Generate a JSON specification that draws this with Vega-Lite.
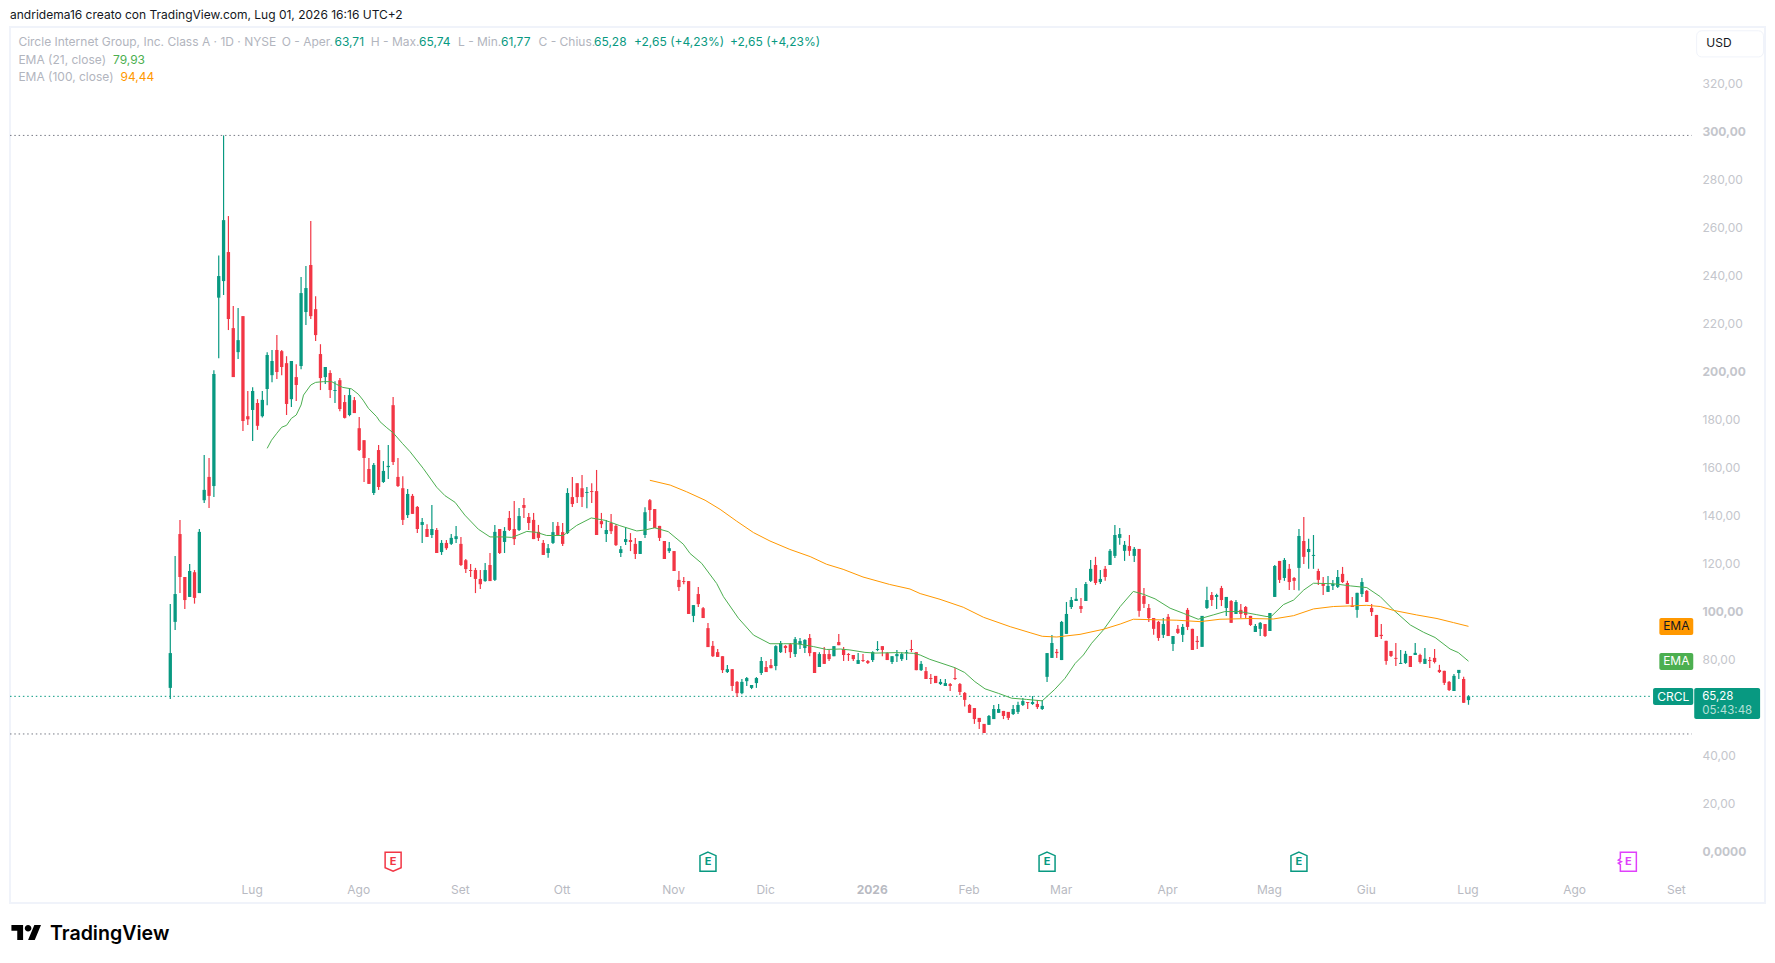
{
  "$schema": "https://vega.github.io/schema/vega-lite/v6.json",
  "autosize": "none",
  "width": 1755,
  "height": 876,
  "padding": {"left": 10, "top": 27, "right": 10, "bottom": 60},
  "background": "#ffffff",
  "title": {"text": "andridema16 creato con TradingView.com, Lug 01, 2026 16:16 UTC+2", "anchor": "start", "frame": "group", "font": "Inter", "fontSize": 12, "fontWeight": "normal", "color": "#131722", "offset": 5},
  "config": {
    "font": "Inter",
    "view": {"stroke": "#f0f3fa", "strokeWidth": 2}
  },
  "datasets": {
    "candles": [
      {"n":0,"o":68.8,"h":103.8,"l":64.2,"c":83.3},{"n":1,"o":96.3,"h":123.8,"l":92.9,"c":107.9},{"n":2,"o":132.9,"h":138.8,"l":108.3,"c":115},{"n":3,"o":115,"h":115,"l":101.7,"c":105.4},{"n":4,"o":106.7,"h":120.4,"l":106.7,"c":117.5},
      {"n":5,"o":117,"h":117.9,"l":103.9,"c":106.3},{"n":6,"o":108.3,"h":135,"l":108.3,"c":133.8},{"n":7,"o":147,"h":165.8,"l":145.8,"c":151.3},{"n":8,"o":156.7,"h":164.6,"l":143.8,"c":148.8},{"n":9,"o":152.9,"h":201.2,"l":148.3,"c":199.6},
      {"n":10,"o":231.4,"h":249,"l":206.2,"c":240.4},{"n":11,"o":238.3,"h":299,"l":232.5,"c":263.7},{"n":12,"o":250.4,"h":265.4,"l":217.9,"c":222.5},{"n":13,"o":218.7,"h":227.9,"l":198.3,"c":198.3},{"n":14,"o":208.7,"h":227.1,"l":205.8,"c":213.7},
      {"n":15,"o":223.7,"h":223.7,"l":175.8,"c":180},{"n":16,"o":182,"h":192.5,"l":178.3,"c":180.7},{"n":17,"o":184.6,"h":194.1,"l":171.7,"c":192.5},{"n":18,"o":187.5,"h":189.1,"l":176.3,"c":178},{"n":19,"o":182,"h":192.5,"l":181.5,"c":188.8},
      {"n":20,"o":193.3,"h":208.7,"l":186.6,"c":207.5},{"n":21,"o":199.1,"h":209.6,"l":196.2,"c":205},{"n":22,"o":209.6,"h":215.8,"l":197.5,"c":200.4},{"n":23,"o":209.1,"h":209.6,"l":199.1,"c":202.5},{"n":24,"o":204.1,"h":207,"l":182.5,"c":187.1},
      {"n":25,"o":189.1,"h":205,"l":185.8,"c":205},{"n":26,"o":198.3,"h":203.7,"l":188.3,"c":195},{"n":27,"o":202.9,"h":240,"l":201.6,"c":233.3},{"n":28,"o":225.4,"h":244.6,"l":220,"c":235.4},{"n":29,"o":245,"h":263.3,"l":222.5,"c":223.7},
      {"n":30,"o":226.6,"h":232,"l":213.3,"c":215.8},{"n":31,"o":207.9,"h":212,"l":192.9,"c":197.9},{"n":32,"o":198.3,"h":202.5,"l":195.4,"c":202.5},{"n":33,"o":200,"h":201.2,"l":189.6,"c":192.9},{"n":34,"o":192.5,"h":196.6,"l":187.5,"c":192.9},
      {"n":35,"o":197,"h":197.9,"l":184.1,"c":185},{"n":36,"o":187.9,"h":190.8,"l":181,"c":181.3},{"n":37,"o":182.5,"h":193.7,"l":182,"c":190.8},{"n":38,"o":188.7,"h":190,"l":183.3,"c":183.3},{"n":39,"o":177,"h":181.7,"l":167.5,"c":167.9},
      {"n":40,"o":172,"h":172,"l":154.6,"c":164.6},{"n":41,"o":160,"h":164.6,"l":153.8,"c":153.8},{"n":42,"o":150,"h":162.5,"l":149.2,"c":161.7},{"n":43,"o":167.9,"h":170,"l":151.3,"c":152.5},{"n":44,"o":154.6,"h":163.3,"l":154.2,"c":159.2},
      {"n":45,"o":160.8,"h":170,"l":155.8,"c":161.3},{"n":46,"o":186.6,"h":190,"l":161.7,"c":162.9},{"n":47,"o":156.7,"h":164.6,"l":152.5,"c":152.9},{"n":48,"o":152,"h":157,"l":136.7,"c":138.8},{"n":49,"o":140.8,"h":151.7,"l":139.6,"c":149.6},
      {"n":50,"o":148.8,"h":149.6,"l":141.3,"c":141.3},{"n":51,"o":144.2,"h":144.6,"l":133.3,"c":135},{"n":52,"o":136.7,"h":139.6,"l":129.2,"c":137.9},{"n":53,"o":135,"h":137,"l":131.7,"c":131.7},{"n":54,"o":132.5,"h":145,"l":131.3,"c":135},
      {"n":55,"o":134.6,"h":135.4,"l":125,"c":125},{"n":56,"o":125.4,"h":130.4,"l":124.2,"c":129.2},{"n":57,"o":129.2,"h":130.4,"l":126.3,"c":127},{"n":58,"o":128.8,"h":132.9,"l":128.3,"c":131.3},{"n":59,"o":130.8,"h":136.3,"l":129.2,"c":132},
      {"n":60,"o":128.8,"h":131.7,"l":119.6,"c":120},{"n":61,"o":122,"h":122.5,"l":116.7,"c":118.3},{"n":62,"o":117.9,"h":120.4,"l":115,"c":117.5},{"n":63,"o":117.9,"h":118.8,"l":108.3,"c":114.2},{"n":64,"o":114.2,"h":117.9,"l":110,"c":112},
      {"n":65,"o":113.3,"h":120.8,"l":113,"c":117.9},{"n":66,"o":120,"h":125,"l":113.3,"c":113.3},{"n":67,"o":113.8,"h":136.7,"l":113.3,"c":133.8},{"n":68,"o":135,"h":135,"l":124.6,"c":125},{"n":69,"o":129.6,"h":135.8,"l":125,"c":134.2},
      {"n":70,"o":139.6,"h":142.5,"l":134.2,"c":134.6},{"n":71,"o":135,"h":146.7,"l":128.3,"c":130.8},{"n":72,"o":134.6,"h":143.8,"l":134.2,"c":140.4},{"n":73,"o":145,"h":147.9,"l":139.6,"c":143.8},{"n":74,"o":140,"h":141.7,"l":134.6,"c":137.5},
      {"n":75,"o":138.8,"h":141.7,"l":130.8,"c":130.8},{"n":76,"o":133.8,"h":136.7,"l":130,"c":131.3},{"n":77,"o":129.2,"h":130.4,"l":124.2,"c":124.2},{"n":78,"o":125,"h":128.8,"l":123,"c":127},{"n":79,"o":129.2,"h":137.9,"l":128.8,"c":133.7},
      {"n":80,"o":136.3,"h":137.9,"l":132.5,"c":132.5},{"n":81,"o":133.7,"h":137.5,"l":127.9,"c":128.8},{"n":82,"o":133.3,"h":152,"l":132.9,"c":150},{"n":83,"o":148.3,"h":156.7,"l":144.2,"c":145.4},{"n":84,"o":154.1,"h":154.1,"l":145.8,"c":148.3},
      {"n":85,"o":152,"h":157.5,"l":144.2,"c":148.3},{"n":86,"o":150,"h":152.5,"l":143.7,"c":150.4},{"n":87,"o":150.8,"h":154.1,"l":145.8,"c":150.4},{"n":88,"o":150.8,"h":159.6,"l":132.5,"c":132.5},{"n":89,"o":138.3,"h":141.7,"l":135.4,"c":137},
      {"n":90,"o":132.9,"h":138.8,"l":129.6,"c":134.6},{"n":91,"o":137.5,"h":141.3,"l":132.9,"c":134.1},{"n":92,"o":136.3,"h":137,"l":127.9,"c":128.3},{"n":93,"o":125,"h":127.9,"l":123.3,"c":126.6},{"n":94,"o":129.6,"h":135.8,"l":128.3,"c":130.8},
      {"n":95,"o":130.4,"h":133.3,"l":125.8,"c":129.6},{"n":96,"o":128.8,"h":131.3,"l":122.5,"c":124.6},{"n":97,"o":124.6,"h":130,"l":124.6,"c":130},{"n":98,"o":132.5,"h":144.1,"l":131.3,"c":142},{"n":99,"o":147,"h":147.5,"l":138.3,"c":142.9},
      {"n":100,"o":143.3,"h":143.3,"l":135.4,"c":135.4},{"n":101,"o":136.3,"h":136.3,"l":130,"c":131.3},{"n":102,"o":130,"h":130,"l":122.5,"c":122.5},{"n":103,"o":125.8,"h":129.6,"l":125,"c":127},{"n":104,"o":125.8,"h":125.8,"l":117.5,"c":117.5},
      {"n":105,"o":113.8,"h":117.5,"l":109.2,"c":110.8},{"n":106,"o":113.3,"h":115,"l":112,"c":112.9},{"n":107,"o":113.3,"h":113.3,"l":99.6,"c":99.6},{"n":108,"o":98.8,"h":103.3,"l":96.2,"c":103.3},{"n":109,"o":107.9,"h":110.8,"l":102.5,"c":103.7},
      {"n":110,"o":102,"h":102.5,"l":97.9,"c":97.9},{"n":111,"o":93.7,"h":95.8,"l":85.8,"c":85.8},{"n":112,"o":86.3,"h":88.3,"l":81.7,"c":82},{"n":113,"o":83.7,"h":85,"l":81.7,"c":81.7},{"n":114,"o":82,"h":82,"l":75,"c":76.2},
      {"n":115,"o":75.4,"h":78.3,"l":75,"c":76.6},{"n":116,"o":76.6,"h":76.6,"l":67.5,"c":69.6},{"n":117,"o":71.3,"h":71.7,"l":65,"c":66.6},{"n":118,"o":66.6,"h":72.5,"l":66.2,"c":71.3},{"n":119,"o":71.6,"h":73.3,"l":69.6,"c":72.9},
      {"n":120,"o":68.8,"h":70,"l":68.3,"c":70},{"n":121,"o":70.8,"h":73.3,"l":68.8,"c":72.9},{"n":122,"o":75,"h":81.7,"l":74.2,"c":80},{"n":123,"o":77.5,"h":80,"l":75.4,"c":75.4},{"n":124,"o":78.3,"h":80.8,"l":77,"c":77},
      {"n":125,"o":77.9,"h":86.6,"l":76.2,"c":86.2},{"n":126,"o":83.7,"h":88.3,"l":83.3,"c":87.5},{"n":127,"o":86.3,"h":86.6,"l":83.3,"c":85.4},{"n":128,"o":87,"h":87.5,"l":81.3,"c":83.7},{"n":129,"o":82.9,"h":90,"l":81.7,"c":89.1},
      {"n":130,"o":87,"h":89.6,"l":85,"c":88.3},{"n":131,"o":85.4,"h":89.1,"l":83.3,"c":88.8},{"n":132,"o":89.6,"h":91.3,"l":82,"c":83.3},{"n":133,"o":83.7,"h":83.7,"l":75,"c":75},{"n":134,"o":77.5,"h":83.7,"l":77.5,"c":82.9},
      {"n":135,"o":82.9,"h":85.8,"l":78.8,"c":78.8},{"n":136,"o":82.9,"h":84.6,"l":80,"c":80.8},{"n":137,"o":82,"h":86.2,"l":82,"c":86.2},{"n":138,"o":87.9,"h":91.3,"l":86.6,"c":86.6},{"n":139,"o":85,"h":85.8,"l":80,"c":82.5},
      {"n":140,"o":82.9,"h":83.3,"l":80,"c":82.5},{"n":141,"o":82.5,"h":82.5,"l":80,"c":80.8},{"n":142,"o":78.8,"h":83.3,"l":78.8,"c":80.4},{"n":143,"o":80.4,"h":82.9,"l":79.6,"c":80},{"n":144,"o":80,"h":80.4,"l":78.8,"c":79.2},
      {"n":145,"o":80.4,"h":84.1,"l":79.6,"c":83.7},{"n":146,"o":84.6,"h":88.3,"l":84.1,"c":85},{"n":147,"o":86.2,"h":86.2,"l":82,"c":84.6},{"n":148,"o":83.3,"h":83.7,"l":80.4,"c":80.4},{"n":149,"o":79.6,"h":82,"l":78.8,"c":82},
      {"n":150,"o":82,"h":84.6,"l":79.6,"c":82.9},{"n":151,"o":80.8,"h":83.7,"l":80,"c":82.9},{"n":152,"o":83.3,"h":84.6,"l":80.4,"c":83.7},{"n":153,"o":85,"h":88.8,"l":83.7,"c":84.6},{"n":154,"o":83.7,"h":83.7,"l":76.2,"c":76.2},
      {"n":155,"o":76.2,"h":80,"l":75.8,"c":78.8},{"n":156,"o":75.8,"h":77.5,"l":72.5,"c":72.5},{"n":157,"o":72.9,"h":74.6,"l":70.4,"c":72.5},{"n":158,"o":73.8,"h":73.8,"l":70.8,"c":70.8},{"n":159,"o":70.4,"h":72.5,"l":70,"c":71.3},
      {"n":160,"o":69.6,"h":72.5,"l":69.6,"c":70.8},{"n":161,"o":70.4,"h":70.8,"l":67.5,"c":69.6},{"n":162,"o":72.9,"h":77.1,"l":72.1,"c":72.5},{"n":163,"o":70.4,"h":70.8,"l":65.8,"c":67.1},{"n":164,"o":66.7,"h":67.1,"l":61,"c":63.8},
      {"n":165,"o":61.7,"h":62.1,"l":58.4,"c":58.4},{"n":166,"o":60.4,"h":60.4,"l":53.8,"c":55.8},{"n":167,"o":56.3,"h":56.3,"l":51.7,"c":54.6},{"n":168,"o":53.8,"h":53.8,"l":50,"c":50},{"n":169,"o":53.4,"h":57.5,"l":53.4,"c":57.1},
      {"n":170,"o":55.8,"h":61.7,"l":55.8,"c":60},{"n":171,"o":58.4,"h":62.1,"l":58.4,"c":60},{"n":172,"o":59.2,"h":59.2,"l":55.8,"c":57.1},{"n":173,"o":58.8,"h":58.8,"l":55.4,"c":56.3},{"n":174,"o":57.9,"h":61.7,"l":57.5,"c":60},
      {"n":175,"o":58.8,"h":63,"l":57.9,"c":61.7},{"n":176,"o":61.7,"h":64.6,"l":61.3,"c":63.3},{"n":177,"o":62.9,"h":62.9,"l":60,"c":62.5},{"n":178,"o":62.1,"h":65.4,"l":61.7,"c":62.9},{"n":179,"o":62.1,"h":63.8,"l":60,"c":60.8},
      {"n":180,"o":60,"h":63.8,"l":59.6,"c":61.3},{"n":181,"o":73.4,"h":83.3,"l":71.3,"c":83.3},{"n":182,"o":81.3,"h":90.8,"l":81.3,"c":87.5},{"n":183,"o":83.8,"h":85,"l":81.3,"c":83.3},{"n":184,"o":80.4,"h":96.7,"l":80.4,"c":96.3},
      {"n":185,"o":91.3,"h":104.6,"l":91.3,"c":99.6},{"n":186,"o":102.5,"h":106.7,"l":101.7,"c":105.4},{"n":187,"o":105,"h":110.4,"l":105,"c":105.9},{"n":188,"o":102.9,"h":106.3,"l":100,"c":101.7},{"n":189,"o":105,"h":112.9,"l":105,"c":112.1},
      {"n":190,"o":113.4,"h":122.1,"l":112.9,"c":118.4},{"n":191,"o":120,"h":123.4,"l":111.7,"c":112.5},{"n":192,"o":112.9,"h":117.9,"l":112.1,"c":114.2},{"n":193,"o":118.4,"h":119.6,"l":113.4,"c":115},{"n":194,"o":120,"h":126.7,"l":120,"c":125.9},
      {"n":195,"o":123.8,"h":136.7,"l":122.9,"c":132.5},{"n":196,"o":131.3,"h":135.4,"l":128.4,"c":132.9},{"n":197,"o":125.9,"h":130,"l":121.7,"c":128.4},{"n":198,"o":127.9,"h":132.5,"l":123.8,"c":125.9},{"n":199,"o":123.8,"h":127.5,"l":121.3,"c":126.7},
      {"n":200,"o":126.7,"h":126.7,"l":98.4,"c":100.9},{"n":201,"o":107.1,"h":110.4,"l":102.1,"c":103.8},{"n":202,"o":102.1,"h":103.8,"l":96.3,"c":97.9},{"n":203,"o":97.9,"h":97.9,"l":90.9,"c":93.4},{"n":204,"o":96.3,"h":96.7,"l":88.4,"c":89.6},
      {"n":205,"o":90.9,"h":97.9,"l":89.6,"c":95.4},{"n":206,"o":98.4,"h":99.6,"l":90.4,"c":90.4},{"n":207,"o":87.1,"h":90.4,"l":84.2,"c":90.4},{"n":208,"o":93.4,"h":95,"l":91.3,"c":91.7},{"n":209,"o":90.9,"h":95.4,"l":87.9,"c":94.2},
      {"n":210,"o":101.3,"h":102.1,"l":92.9,"c":94.2},{"n":211,"o":93.4,"h":93.4,"l":84.6,"c":84.6},{"n":212,"o":88.4,"h":90.4,"l":85,"c":87.9},{"n":213,"o":85.9,"h":98.8,"l":85.9,"c":98.8},{"n":214,"o":102.1,"h":110.9,"l":101.7,"c":105.4},
      {"n":215,"o":107.5,"h":108.8,"l":102.9,"c":105.4},{"n":216,"o":106.7,"h":108,"l":101.7,"c":107.5},{"n":217,"o":110.4,"h":111.3,"l":102.9,"c":105.4},{"n":218,"o":102.1,"h":106.7,"l":98.8,"c":106.7},{"n":219,"o":105,"h":105.4,"l":95.9,"c":95.9},
      {"n":220,"o":99.6,"h":105.4,"l":99.6,"c":104.6},{"n":221,"o":101.3,"h":103.8,"l":97.9,"c":99.6},{"n":222,"o":102.5,"h":102.9,"l":97.9,"c":99.2},{"n":223,"o":98.8,"h":98.8,"l":94.6,"c":95},{"n":224,"o":92.1,"h":95.4,"l":92.1,"c":94.6},
      {"n":225,"o":93.4,"h":96.3,"l":90.4,"c":95.9},{"n":226,"o":95.4,"h":95.4,"l":90,"c":90.4},{"n":227,"o":92.5,"h":100,"l":92.5,"c":100},{"n":228,"o":106.7,"h":120,"l":106.7,"c":119.6},{"n":229,"o":121.7,"h":121.7,"l":112.5,"c":113.8},
      {"n":230,"o":114.6,"h":122.9,"l":113.4,"c":122.1},{"n":231,"o":118.4,"h":120.4,"l":109.6,"c":112.9},{"n":232,"o":114.6,"h":115,"l":109.6,"c":113.4},{"n":233,"o":118.8,"h":135,"l":109.4,"c":132.1},{"n":234,"o":130,"h":140,"l":120.4,"c":123.4},
      {"n":235,"o":125.4,"h":130.9,"l":118.4,"c":126.7},{"n":236,"o":123.8,"h":132.5,"l":118.4,"c":124.2},{"n":237,"o":117.5,"h":118.4,"l":111.7,"c":113.8},{"n":238,"o":112.1,"h":115,"l":107.5,"c":111.3},{"n":239,"o":108.8,"h":115.4,"l":108.8,"c":111.3},
      {"n":240,"o":111.3,"h":113.8,"l":109.6,"c":112.1},{"n":241,"o":110.9,"h":117.9,"l":110.4,"c":115},{"n":242,"o":116.3,"h":119.2,"l":112.5,"c":112.9},{"n":243,"o":112.5,"h":113.4,"l":103.8,"c":103.8},{"n":244,"o":103,"h":106.7,"l":102.5,"c":102.5},
      {"n":245,"o":101.3,"h":108.4,"l":98,"c":108.4},{"n":246,"o":107.9,"h":114.6,"l":106.7,"c":112.9},{"n":247,"o":109.2,"h":109.6,"l":104.6,"c":104.6},{"n":248,"o":102.1,"h":103.8,"l":98.8,"c":100.4},{"n":249,"o":99.2,"h":99.2,"l":90,"c":90},
      {"n":250,"o":90.9,"h":95.4,"l":89.2,"c":90.4},{"n":251,"o":88.4,"h":88.4,"l":78.4,"c":80},{"n":252,"o":84.2,"h":84.2,"l":81.7,"c":82.1},{"n":253,"o":81.3,"h":87.5,"l":77.9,"c":80.9},{"n":254,"o":78.8,"h":84.6,"l":78.8,"c":79.2},
      {"n":255,"o":79.2,"h":84.2,"l":78.8,"c":83},{"n":256,"o":82.1,"h":82.1,"l":77.5,"c":77.5},{"n":257,"o":82.5,"h":87.5,"l":82.5,"c":83.4},{"n":258,"o":82.5,"h":83,"l":79,"c":79.6},{"n":259,"o":78.8,"h":85.4,"l":78.8,"c":80.9},
      {"n":260,"o":80.4,"h":81.7,"l":77.1,"c":80},{"n":261,"o":81.3,"h":85,"l":79,"c":79.6},{"n":262,"o":76.3,"h":78.4,"l":75,"c":75.4},{"n":263,"o":75.9,"h":75.9,"l":70,"c":70.9},{"n":264,"o":71.3,"h":71.7,"l":67.5,"c":67.9},
      {"n":265,"o":67.5,"h":74.6,"l":67.5,"c":73.8},{"n":266,"o":75,"h":76.3,"l":72.5,"c":76.3},{"n":267,"o":72.5,"h":73.4,"l":62.5,"c":62.6},{"n":268,"o":63.71,"h":65.74,"l":61.77,"c":65.28}
    ],
    "ema21": [
      {"n":20,"v":168.6},{"n":20.9,"v":172},{"n":22,"v":174.9},{"n":23,"v":177.4},{"n":24,"v":178.2},{"n":25,"v":181.1},{"n":26,"v":182.5},{"n":27,"v":186.7},{"n":27.5,"v":190.8},{"n":29,"v":195},{"n":30,"v":196.1},{"n":31.6,"v":196.4},{"n":33.3,"v":196.4},{"n":34.3,"v":195.3},{"n":35.6,"v":194},{"n":37.4,"v":193.4},{"n":38.8,"v":191.2},{"n":39.8,"v":188.7},{"n":40.9,"v":185.3},{"n":42.6,"v":181.8},{"n":43.3,"v":179.7},{"n":44.7,"v":177.2},{"n":46,"v":175.1},{"n":47.9,"v":170.7},{"n":49.5,"v":167.2},{"n":52.2,"v":160.3},{"n":55,"v":152.4},{"n":56.7,"v":148.9},{"n":58.8,"v":146.1},{"n":60.8,"v":140.8},{"n":63.6,"v":134.9},{"n":66,"v":131.7},{"n":68.8,"v":131.7},{"n":70.5,"v":131.5},{"n":71.8,"v":132.5},{"n":73.6,"v":134},{"n":75.6,"v":133.6},{"n":77.7,"v":132.3},{"n":81.1,"v":132.3},{"n":83.9,"v":136.5},{"n":86.9,"v":139.6},{"n":89.8,"v":138.6},{"n":92.8,"v":136.4},{"n":96.3,"v":134.2},{"n":98,"v":134.6},{"n":100,"v":135.5},{"n":102.8,"v":133.9},{"n":105.9,"v":128.7},{"n":107.3,"v":124.8},{"n":109.7,"v":120.7},{"n":112.8,"v":112.3},{"n":114.2,"v":106.8},{"n":117.3,"v":97.8},{"n":120.4,"v":90.8},{"n":123.8,"v":87.2},{"n":126.6,"v":87.2},{"n":129.3,"v":87.2},{"n":132.8,"v":86},{"n":135.5,"v":84.8},{"n":138.3,"v":85},{"n":140.3,"v":84.6},{"n":143.4,"v":83.6},{"n":145.5,"v":83.3},{"n":149.9,"v":83.5},{"n":153.4,"v":83.2},{"n":154.8,"v":82.5},{"n":156.8,"v":80.7},{"n":162,"v":77.2},{"n":164,"v":75.2},{"n":166.1,"v":71.4},{"n":168.2,"v":68.4},{"n":171,"v":66.5},{"n":173.7,"v":64.5},{"n":176.8,"v":64},{"n":180,"v":63.4},{"n":182.6,"v":68.2},{"n":184.7,"v":72.8},{"n":186.8,"v":79},{"n":188.5,"v":82.5},{"n":190.2,"v":87.4},{"n":192.6,"v":92.9},{"n":196.1,"v":102.7},{"n":198.8,"v":109},{"n":200.9,"v":107.8},{"n":203.3,"v":105.9},{"n":206.4,"v":102},{"n":209.1,"v":99.9},{"n":212.2,"v":97.4},{"n":215.3,"v":99.2},{"n":217.7,"v":100.6},{"n":220.8,"v":100.6},{"n":224.3,"v":99.3},{"n":226.4,"v":98.5},{"n":227.4,"v":98.8},{"n":229.8,"v":103.5},{"n":231.9,"v":105.4},{"n":234,"v":109.6},{"n":236,"v":112.4},{"n":240.1,"v":112.2},{"n":243.6,"v":111.3},{"n":247,"v":110.6},{"n":249.8,"v":106.8},{"n":252.5,"v":101.3},{"n":256,"v":95},{"n":258.7,"v":92},{"n":261.1,"v":89.8},{"n":264.2,"v":85},{"n":265.9,"v":83.5},{"n":268,"v":79.93}
    ],
    "ema100": [
      {"n":99,"v":155.3},{"n":103.2,"v":153.3},{"n":106.6,"v":150.5},{"n":110.4,"v":147},{"n":113.5,"v":143.2},{"n":116.9,"v":138.3},{"n":120.4,"v":133.5},{"n":123.8,"v":130},{"n":127.9,"v":126.5},{"n":132.1,"v":123.5},{"n":135.5,"v":120.3},{"n":138.9,"v":118.2},{"n":143,"v":115},{"n":148.5,"v":111.9},{"n":152.7,"v":110},{"n":154.8,"v":108.1},{"n":158.9,"v":105.7},{"n":163.7,"v":102.4},{"n":167.9,"v":98.2},{"n":173.4,"v":94.3},{"n":177.5,"v":91.8},{"n":180,"v":90.3},{"n":183,"v":90},{"n":187.8,"v":91.1},{"n":192.6,"v":93.2},{"n":196.1,"v":95.4},{"n":198.8,"v":97.4},{"n":203,"v":97.2},{"n":207.8,"v":97},{"n":212.6,"v":96.4},{"n":216.7,"v":97.4},{"n":222.9,"v":97.7},{"n":227.7,"v":97.5},{"n":231.9,"v":98.9},{"n":236,"v":101.7},{"n":240.1,"v":102.7},{"n":247,"v":103.2},{"n":249.8,"v":102.7},{"n":252.5,"v":101.1},{"n":257.3,"v":99.2},{"n":261.5,"v":97.7},{"n":264.9,"v":96},{"n":268,"v":94.44}
    ],
    "levels": [
      {"level":"high","v":299,"from":-33.09,"to":314.1},
      {"level":"low","v":49.6,"from":-33.09,"to":314.1},
      {"level":"last","v":65.28,"from":-33.09,"to":306}
    ],
    "tags": [
      {"kind":"ema100","from":307.4,"to":314.4,"bottom":90.83,"top":97.9},
      {"kind":"ema21","from":307.4,"to":314.4,"bottom":76.25,"top":83.3},
      {"kind":"up","from":306.1,"to":314.4,"bottom":61.7,"top":68.75},
      {"kind":"up","from":314.6,"to":328.2,"bottom":55.8,"top":68.75}
    ],
    "earnings": [
      {"n":46,"v":-3.6,"kind":"down"},
      {"n":111,"v":-3.6,"kind":"up"},
      {"n":181,"v":-3.6,"kind":"up"},
      {"n":233,"v":-3.6,"kind":"up"},
      {"n":301,"v":-3.6,"kind":"future"}
    ],
    "labels": [
      {"text":"Circle Internet Group, Inc. Class A · 1D · NYSE","n":-31.36,"v":337.9,"kind":"muted"},
      {"text":"O - Aper.","n":23,"v":337.9,"kind":"muted"},
      {"text":"63,71","n":33.9,"v":337.9,"kind":"up"},
      {"text":"H - Max.","n":41.39,"v":337.9,"kind":"muted"},
      {"text":"65,74","n":51.34,"v":337.9,"kind":"up"},
      {"text":"L - Min.","n":59.39,"v":337.9,"kind":"muted"},
      {"text":"61,77","n":68.27,"v":337.9,"kind":"up"},
      {"text":"C - Chius.","n":76.01,"v":337.9,"kind":"muted"},
      {"text":"65,28","n":87.47,"v":337.9,"kind":"up"},
      {"text":"+2,65 (+4,23%)","n":95.73,"v":337.9,"kind":"up"},
      {"text":"+2,65 (+4,23%)","n":115.55,"v":337.9,"kind":"up"},
      {"text":"EMA (21, close)","n":-31.36,"v":330.5,"kind":"muted"},
      {"text":"79,93","n":-11.83,"v":330.5,"kind":"ema21"},
      {"text":"EMA (100, close)","n":-31.36,"v":323.4,"kind":"muted"},
      {"text":"94,44","n":-10.28,"v":323.4,"kind":"ema100"},
      {"text":"USD","n":317.1,"v":337.4,"kind":"dark"}
    ],
    "priceBox": [
      {"text":"65,28","n":316.25,"v":65.2,"kind":"white"},
      {"text":"05:43:48","n":316.25,"v":59.2,"kind":"pale"}
    ],
    "tagText": [
      {"text":"EMA","n":310.9,"v":94.4,"kind":"dark"},
      {"text":"EMA","n":310.9,"v":79.8,"kind":"white"},
      {"text":"CRCL","n":310.25,"v":65.2,"kind":"white"}
    ]
  },
  "layer": [
    {
      "data": {"name": "levels"},
      "mark": {"type": "rule", "strokeWidth": 1, "strokeDash": [1.5, 2.8]},
      "encoding": {
        "x": {
          "field": "from", "type": "quantitative", "title": null,
          "scale": {"domain": [-33.09, 329.21], "nice": false, "zero": false, "padding": 0},
          "axis": {
            "title": null, "orient": "bottom", "offset": -19, "grid": false, "domain": false, "ticks": false,
            "labelPadding": 0, "labelOffset": -1, "labelFontSize": 12, "labelColor": "#b8bac2", "labelOverlap": false, "labelBound": false, "labelFlush": false,
            "values": [17,39,60,81,104,123,145,165,184,206,227,247,268,290,311],
            "labelExpr": "['Lug','Ago','Set','Ott','Nov','Dic','2026','Feb','Mar','Apr','Mag','Giu','Lug','Ago','Set'][indexof([17,39,60,81,104,123,145,165,184,206,227,247,268,290,311],datum.value)]",
            "labelFontWeight": {"condition": {"test": "datum.value === 145", "value": "bold"}, "value": "normal"}
          }
        },
        "x2": {"field": "to"},
        "y": {
          "field": "v", "type": "quantitative", "title": null,
          "scale": {"domain": [-20.83, 344.17], "nice": false, "zero": false},
          "axis": {
            "title": null, "orient": "right", "offset": -63, "grid": false, "domain": false, "ticks": false,
            "labelPadding": 0, "labelOffset": -2, "labelFontSize": 12, "labelColor": "#c4c6cc", "labelAlign": "left", "labelOverlap": false, "labelBound": false, "labelFlush": false,
            "values": [0,20,40,80,100,120,140,160,180,200,220,240,260,280,300,320],
            "labelExpr": "datum.value === 0 ? '0,0000' : replace(format(datum.value, '.2f'), '.', ',')",
            "labelFontWeight": {"condition": {"test": "datum.value % 100 === 0", "value": "bold"}, "value": "normal"}
          }
        },
        "color": {"condition": {"test": "datum.level === 'last'", "value": "#089981"}, "value": "#787b86"}
      }
    },
    {
      "data": {"name": "candles"},
      "mark": {"type": "rule", "strokeWidth": 1.2},
      "encoding": {
        "x": {"field": "n", "type": "quantitative", "title": null},
        "y": {"field": "l", "type": "quantitative", "title": null},
        "y2": {"field": "h"},
        "color": {"condition": {"test": "datum.c >= datum.o", "value": "#089981"}, "value": "#f23645"}
      }
    },
    {
      "data": {"name": "candles"},
      "mark": {"type": "bar", "size": 3.3, "orient": "vertical"},
      "encoding": {
        "x": {"field": "n", "type": "quantitative", "title": null, "scale": {"padding": 0}},
        "y": {"field": "o", "type": "quantitative", "title": null},
        "y2": {"field": "c"},
        "color": {"condition": {"test": "datum.c >= datum.o", "value": "#089981"}, "value": "#f23645"}
      }
    },
    {
      "data": {"name": "ema21"},
      "mark": {"type": "line", "color": "#4caf50", "strokeWidth": 1, "interpolate": "linear"},
      "encoding": {
        "x": {"field": "n", "type": "quantitative", "title": null},
        "y": {"field": "v", "type": "quantitative", "title": null}
      }
    },
    {
      "data": {"name": "ema100"},
      "mark": {"type": "line", "color": "#ff9800", "strokeWidth": 1, "interpolate": "linear"},
      "encoding": {
        "x": {"field": "n", "type": "quantitative", "title": null},
        "y": {"field": "v", "type": "quantitative", "title": null}
      }
    },
    {
      "data": {"name": "tags"},
      "mark": {"type": "rect", "cornerRadius": 2},
      "encoding": {
        "x": {"field": "from", "type": "quantitative", "title": null},
        "x2": {"field": "to"},
        "y": {"field": "bottom", "type": "quantitative", "title": null},
        "y2": {"field": "top"},
        "color": {
          "field": "kind", "type": "nominal", "legend": null,
          "scale": {
            "domain": ["muted","up","down","ema21","ema100","future","dark","white","pale"],
            "range": ["#b2b5be","#089981","#f23645","#4caf50","#ff9800","#e040fb","#131722","#ffffff","#b5e0d8"]
          }
        }
      }
    },
    {
      "data": {"values": [{"name": "USD", "from": 315.1, "to": 328.9, "bottom": 331.7, "top": 342.6}]},
      "mark": {"type": "rect", "cornerRadius": 5, "fill": "#ffffff", "stroke": "#f0f3fa", "strokeWidth": 1},
      "encoding": {
        "x": {"field": "from", "type": "quantitative", "title": null},
        "x2": {"field": "to"},
        "y": {"field": "bottom", "type": "quantitative", "title": null},
        "y2": {"field": "top"}
      }
    },
    {
      "data": {"name": "earnings"},
      "mark": {"type": "point", "filled": false, "size": 400, "strokeWidth": 1.5, "opacity": 1},
      "encoding": {
        "x": {"field": "n", "type": "quantitative", "title": null},
        "y": {"field": "v", "type": "quantitative", "title": null},
        "color": {"field": "kind", "type": "nominal", "legend": null},
        "shape": {
          "field": "kind", "type": "nominal", "legend": null,
          "scale": {
            "domain": ["down","up","future"],
            "range": [
              "M-.8,-.95H.8V.6L0,.95L-.8,.6Z",
              "M0,-.95L.8,-.6V.95H-.8V-.6Z",
              "M-.8,-.95H.8V.95H-.8V.3L-1,.15L-.7,0L-1,-.15L-.8,-.3Z"
            ]
          }
        }
      }
    },
    {
      "data": {"name": "earnings"},
      "mark": {"type": "text", "text": "E", "fontSize": 11, "fontWeight": "bold", "baseline": "middle", "align": "center"},
      "encoding": {
        "x": {"field": "n", "type": "quantitative", "title": null},
        "y": {"field": "v", "type": "quantitative", "title": null},
        "color": {"field": "kind", "type": "nominal", "legend": null}
      }
    },
    {
      "data": {"name": "labels"},
      "mark": {"type": "text", "align": "left", "baseline": "middle", "fontSize": 12},
      "encoding": {
        "x": {"field": "n", "type": "quantitative", "title": null},
        "y": {"field": "v", "type": "quantitative", "title": null},
        "text": {"field": "text"},
        "color": {"field": "kind", "type": "nominal", "legend": null}
      }
    },
    {
      "data": {"name": "priceBox"},
      "mark": {"type": "text", "align": "left", "baseline": "middle", "fontSize": 11.5},
      "encoding": {
        "x": {"field": "n", "type": "quantitative", "title": null},
        "y": {"field": "v", "type": "quantitative", "title": null},
        "text": {"field": "text"},
        "color": {"field": "kind", "type": "nominal", "legend": null}
      }
    },
    {
      "data": {"name": "tagText"},
      "mark": {"type": "text", "align": "center", "baseline": "middle", "fontSize": 12},
      "encoding": {
        "x": {"field": "n", "type": "quantitative", "title": null},
        "y": {"field": "v", "type": "quantitative", "title": null},
        "text": {"field": "text"},
        "color": {"field": "kind", "type": "nominal", "legend": null}
      }
    },
    {
      "data": {"values": [{"brand": "TradingView", "n": -24.84, "v": -33.6}]},
      "mark": {"type": "text", "align": "left", "baseline": "middle", "fontSize": 19.6, "fontWeight": 600, "color": "#000000"},
      "encoding": {
        "x": {"field": "n", "type": "quantitative", "title": null},
        "y": {"field": "v", "type": "quantitative", "title": null},
        "text": {"field": "brand"}
      }
    },
    {
      "data": {"values": [{"brand": "logo", "n": -29.7, "v": -33.1}]},
      "mark": {
        "type": "point", "filled": true, "size": 900, "color": "#000000", "opacity": 1,
        "shape": "M-.222,.5H-.611V-.111H-1V-.5H-.222ZM.556,.5H.111L.528,-.5H.972ZM-.111,-.278a.222,.222 0 1 0 .444,0a.222,.222 0 1 0 -.444,0Z"
      },
      "encoding": {
        "x": {"field": "n", "type": "quantitative", "title": null},
        "y": {"field": "v", "type": "quantitative", "title": null}
      }
    }
  ]
}
